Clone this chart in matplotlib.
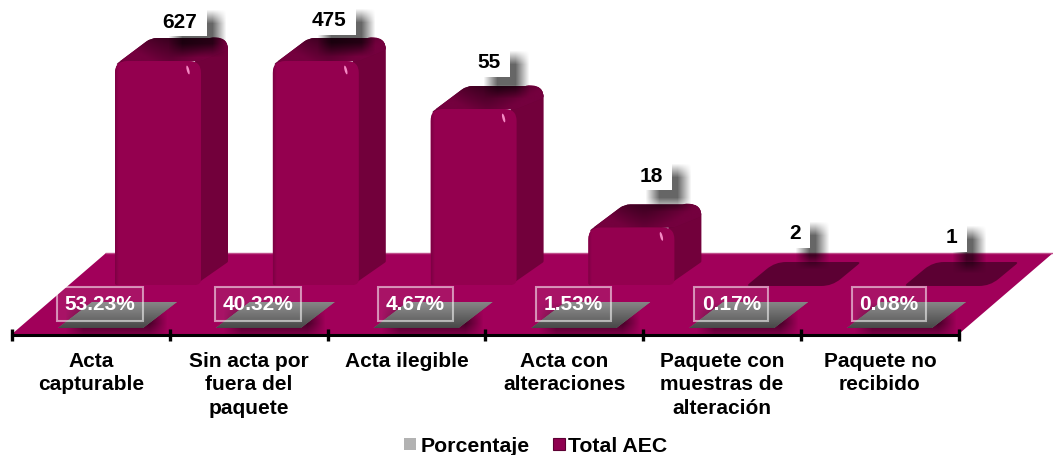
#!/usr/bin/env python3
import numpy as np
import matplotlib
matplotlib.use("Agg")
import matplotlib.pyplot as plt
from matplotlib.patches import PathPatch, Rectangle, Ellipse, Patch, Polygon
from matplotlib.path import Path
from matplotlib.transforms import Affine2D
from matplotlib.colors import to_rgb

plt.rcParams['font.family'] = ['Liberation Sans', 'DejaVu Sans']
plt.rcParams['font.weight'] = 'bold'
plt.rcParams['font.size'] = 15

categories = ["Acta\ncapturable", "Sin acta por\nfuera del\npaquete", "Acta ilegible",
              "Acta con\nalteraciones", "Paquete con\nmuestras de\nalteración", "Paquete no\nrecibido"]
total_aec = [627, 475, 55, 18, 2, 1]
porcentaje = [53.23, 40.32, 4.67, 1.53, 0.17, 0.08]

# the value axis of the original stops near 70, taller bars are cut there
y_max = 70
flat_below = 3

# label offsets from the top back edge of each bar, in pixels
label_dx = [65, 56, 58, 63, 49, 48]
label_dy = [-17, -18, -24, -29, -29, -25]

W, H = 1053, 456
FRONT = "#94004f"
SIDE = "#72003b"
FLOOR = "#a1005a"
FLAT = "#5c0033"

fig = plt.figure(figsize=(W / 100, H / 100), dpi=100)
ax = fig.add_axes([0, 0, 1, 1])
ax.set_xlim(-12 / 157.8, (W - 12) / 157.8)
ax.set_ylim(-(H - 286) / 3.2, 286 / 3.2)
ax.axis('off')

# everything below is placed in pixels from the top left, starting from axis positions
px = Affine2D().scale(1, -1).translate(0, H)


def to_px(cat, val):
    x, y = ax.transData.transform((cat, val))
    return x, H - y


def rounded(points, radii):
    verts, codes = [], []
    n = len(points)
    for k in range(n):
        p = np.array(points[k], float)
        a = np.array(points[k - 1], float)
        b = np.array(points[(k + 1) % n], float)
        r = radii[k]
        p1 = p + (a - p) / np.linalg.norm(a - p) * r
        p2 = p + (b - p) / np.linalg.norm(b - p) * r
        verts += [p1, p, p2]
        codes += [Path.LINETO, Path.CURVE3, Path.CURVE3]
    codes[0] = Path.MOVETO
    verts.append(verts[0])
    codes.append(Path.CLOSEPOLY)
    return Path(verts, codes)


def shape(path, color, z):
    p = PathPatch(path, facecolor=color, edgecolor='none', transform=px, zorder=z)
    ax.add_patch(p)
    return p


def image(arr, x0, y0, x1, y1, z, clip=None):
    im = ax.imshow(arr, extent=(x0, x1, y1, y0), origin='upper', aspect='auto',
                   interpolation='bilinear', zorder=z)
    im.set_transform(px)
    if clip is not None:
        im.set_clip_path(clip)
    return im


def soft_shadow(x0, y0, x1, y1, blur, alpha, z, clip=None):
    xs = np.arange(x0 - blur, x1 + blur)
    ys = np.arange(y0 - blur, y1 + blur)
    ax_ = np.clip((xs - (x0 - blur)) / (2 * blur), 0, 1) * np.clip(((x1 + blur) - xs) / (2 * blur), 0, 1)
    ay_ = np.clip((ys - (y0 - blur)) / (2 * blur), 0, 1) * np.clip(((y1 + blur) - ys) / (2 * blur), 0, 1)
    arr = np.zeros((len(ys), len(xs), 4))
    arr[..., 3] = np.outer(ay_, ax_) * alpha
    return image(arr, x0 - blur, y0 - blur, x1 + blur, y1 + blur, z, clip)


def gradient(c0, c1, vertical=True, n=64):
    t = np.linspace(0, 1, n)
    c0, c1 = np.array(to_rgb(c0)), np.array(to_rgb(c1))
    row = c0[None, :] * (1 - t[:, None]) + c1[None, :] * t[:, None]
    return row[:, None, :] if vertical else row[None, :, :]


# floor of the 3d chart
floor_x0, floor_y0 = to_px(0, 0)[0], 335
floor_x1 = to_px(6, 0)[0]
floor = Polygon([(floor_x0, floor_y0), (floor_x1, floor_y0), (1053, 254), (floor_x0 + 94, 254)],
                closed=True, facecolor=FLOOR, edgecolor='none', transform=px, zorder=1)
ax.add_patch(floor)
ax.plot([floor_x0 + 94, 1053], [254, 254], color="#c04f8c", lw=1, transform=px, zorder=1.1)

# Total AEC bars
for i, v in enumerate(total_aec):
    left = to_px(i, 0)[0] + 103
    right = left + 86
    base = to_px(i, 0)[1]
    h = 0 if v < flat_below else min(v, y_max)
    top = to_px(i, h)[1]
    back = top - 23
    if h == 0:
        shape(rounded([(left, base + 1), (left + 29, back), (right + 29, back), (right, base + 1)],
                      [4, 11, 4, 11]), FLAT, 3)
    else:
        side = rounded([(right - 6, base), (right - 6, top), (right + 8, back - 1), (right + 27, back),
                        (right + 27, base - 23)], [1, 1, 5, 12, 1])
        shape(side, SIDE, 3)
        roof = shape(rounded([(left, top + 4), (left + 36, back), (right + 27, back), (right + 27, back + 12),
                              (right, top)], [4, 6, 12, 2, 3]), "#6a0038", 3.2)
        dark = np.zeros((8, 32, 3))
        t = np.abs(np.linspace(-1, 1, 32))[None, :] ** 1.3
        s = np.linspace(0, 1, 8)[:, None]
        for c in range(3):
            dark[..., c] = to_rgb("#3c0020")[c] + (to_rgb("#74003e")[c] - to_rgb("#3c0020")[c]) * np.clip(t + s * 0.7, 0, 1)
        image(dark, left, back, right + 27, top, 3.2, roof)
        front = shape(rounded([(left, base), (left, top), (right, top), (right, base)],
                              [2, 12, 12, 6]), FRONT, 3.4)
        image(gradient("#7d0044", FRONT, vertical=False, n=8), left, top, left + 4, base, 3.5, front)
        ax.add_patch(Ellipse((right - 13, top + 9), 2.5, 9, angle=-15, facecolor="#f48ac4",
                             edgecolor='none', transform=px, zorder=3.6))

    # value label, white box with a soft shadow to the lower right
    tx = left + label_dx[i]
    ty = back + label_dy[i]
    hw = len(str(v)) * 6
    soft_shadow(tx - hw + 13, ty - 5, tx + hw + 21, ty + 29, 7, 0.6, 4)
    ax.add_patch(Rectangle((tx - hw - 1, ty - 15), 2 * hw + 10, 30, facecolor='white',
                           edgecolor='none', transform=px, zorder=5))
    ax.text(tx, ty, str(v), ha='center', va='center', color='black', transform=px, zorder=6)

# Porcentaje series, flat slabs on the front of the floor
for i, v in enumerate(porcentaje):
    x0 = to_px(i, 0)[0]
    soft_shadow(x0 + 62, 312, x0 + 146, 333, 9, 0.55, 1.5, floor)
    slab = Polygon([(x0 + 46, 329), (x0 + 131, 329), (x0 + 165, 303), (x0 + 80, 303)], closed=True,
                   facecolor="#777777", edgecolor='none', transform=px, zorder=2)
    ax.add_patch(slab)
    image(gradient("#868686", "#484848"), x0 + 46, 303, x0 + 165, 329, 2.1, slab)
    ax.text(x0 + 88, 305, f"{v:.2f}%", ha='center', va='center', color='white', transform=px, zorder=7,
            bbox=dict(boxstyle='square,pad=0.37', facecolor=(1, 1, 1, 0.08), edgecolor=(1, 1, 1, 0.55), lw=1.5))

# category axis
ax.plot([floor_x0, floor_x1], [336, 336], color='black', lw=2.2, transform=px, zorder=8)
for i in range(len(categories) + 1):
    x = to_px(i, 0)[0]
    ax.plot([x, x], [330, 342], color='black', lw=2.4, transform=px, zorder=8, solid_capstyle='butt')
for i, name in enumerate(categories):
    ax.text(to_px(i + 0.5, 0)[0], 352, name, ha='center', va='top', color='black',
            linespacing=1.3, transform=px, zorder=8)

handles = [Patch(facecolor="#b2b2b2", edgecolor='none', label="Porcentaje"),
           Patch(facecolor="#8f0050", edgecolor="#5c0033", lw=0.8, label="Total AEC")]
ax.legend(handles=handles, ncol=2, frameon=False, loc='center', bbox_to_anchor=(536 / W, 1 - 447 / H),
          handlelength=0.56, handleheight=0.56, handletextpad=0.18, columnspacing=1.1, fontsize=15.3,
          borderpad=0, labelspacing=0, bbox_transform=fig.transFigure)

ax.set_xlim(-12 / 157.8, (W - 12) / 157.8)
ax.set_ylim(-(H - 286) / 3.2, 286 / 3.2)
fig.savefig("out.png", dpi=100)
